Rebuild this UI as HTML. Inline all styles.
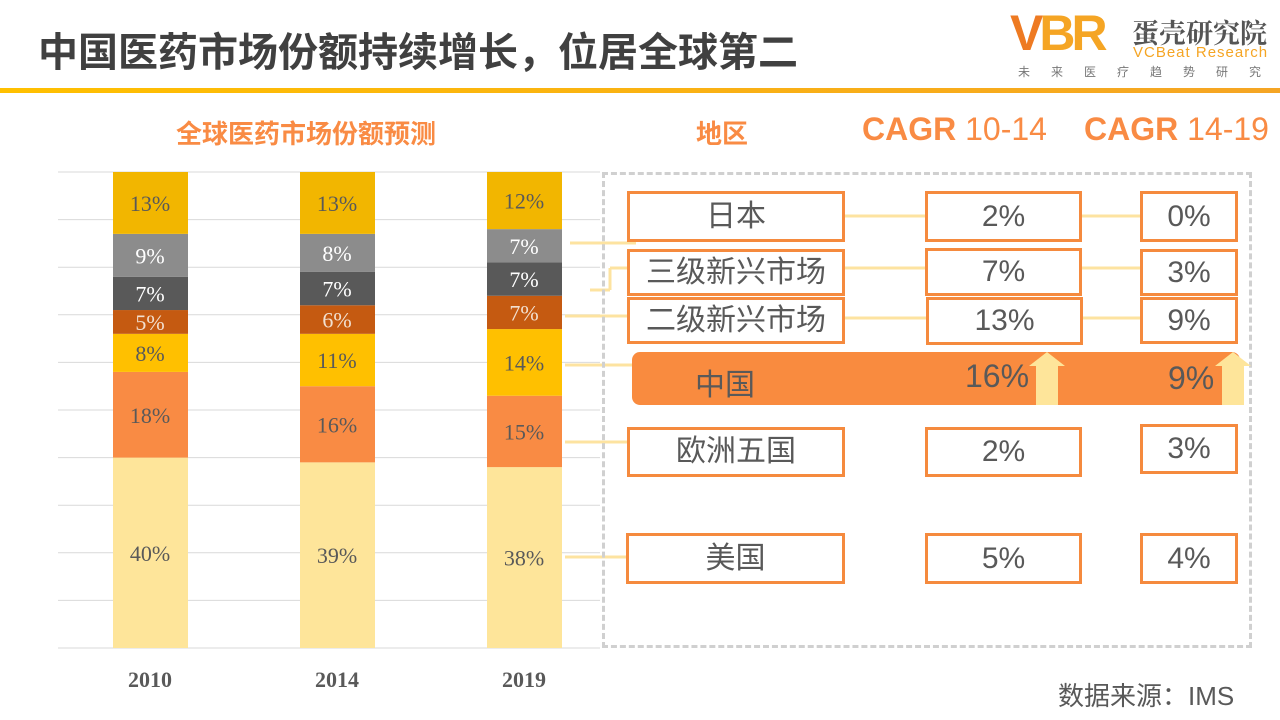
<!DOCTYPE html>
<html><head><meta charset="utf-8"><style>
body{margin:0;width:1280px;height:720px;background:#fff;overflow:hidden;position:relative;font-family:"Liberation Sans","Noto Sans CJK SC",sans-serif}
.t{position:absolute;white-space:nowrap}
.box{position:absolute;border:3px solid #F58A3E;background:#fff;box-sizing:border-box;display:flex;align-items:center;justify-content:center;color:#595959;font-size:30px;line-height:1;padding-top:0}
</style></head><body>
<div class="t" style="left:38px;top:20px;font-size:40px;font-weight:bold;color:#404040">中国医药市场份额持续增长，位居全球第二</div>
<div style="position:absolute;left:1010px;top:8px;width:270px;height:75px">
 <div class="t" style="left:0;top:-4px;font-size:50px;font-weight:900;color:#EE7A22;letter-spacing:-4px;font-family:'Liberation Sans',sans-serif">V<span style="color:#F5A524">B</span><span style="color:#F5A524">R</span></div>
 <div class="t" style="left:122px;top:4px;font-size:27px;font-weight:bold;color:#555;font-family:'Noto Serif CJK SC',serif">蛋壳研究院</div>
 <div class="t" style="left:123px;top:36px;font-size:15px;color:#F5A524;letter-spacing:1px">VCBeat Research</div>
 <div class="t" style="left:8px;top:55px;font-size:12px;color:#777;letter-spacing:21px">未来医疗趋势研究</div>
</div>
<div style="position:absolute;left:0;top:88px;width:1280px;height:5px;background:linear-gradient(90deg,#FFC000,#F5A524)"></div>
<div class="t" style="left:176px;top:114px;font-size:26px;font-weight:bold;color:#F98B44">全球医药市场份额预测</div>
<div class="t" style="left:696px;top:114px;font-size:26px;font-weight:bold;color:#F98B44">地区</div>
<div class="t" style="left:862px;top:111px;font-size:32px;color:#F98B44"><b>CAGR</b> 10-14</div>
<div class="t" style="left:1084px;top:111px;font-size:32px;color:#F98B44"><b>CAGR</b> 14-19</div>

<svg id="chart" style="position:absolute;left:0;top:0" width="1280" height="720"></svg>

<div style="position:absolute;left:602px;top:172px;width:650px;height:476px;border:3px dashed #D0D0D0;box-sizing:border-box"></div>

<div class="box" style="left:627px;top:191px;width:218px;height:51px">日本</div>
<div class="box" style="left:925px;top:191px;width:157px;height:51px">2%</div>
<div class="box" style="left:1140px;top:191px;width:98px;height:51px">0%</div>
<div class="box" style="left:627px;top:249px;width:218px;height:47px">三级新兴市场</div>
<div class="box" style="left:925px;top:248px;width:157px;height:48px">7%</div>
<div class="box" style="left:1140px;top:249px;width:98px;height:47px">3%</div>
<div class="box" style="left:627px;top:297px;width:218px;height:47px">二级新兴市场</div>
<div class="box" style="left:926px;top:297px;width:157px;height:48px">13%</div>
<div class="box" style="left:1140px;top:297px;width:98px;height:47px">9%</div>
<div style="position:absolute;left:632px;top:352px;width:608px;height:53px;background:#F98B3F;border-radius:8px"></div>
<div class="t" style="left:695px;top:360px;font-size:30px;color:#595959">中国</div>
<div class="t" style="left:965px;top:358px;font-size:32px;color:#595959">16%</div>
<div class="t" style="left:1168px;top:360px;font-size:32px;color:#595959">9%</div>
<svg style="position:absolute;left:0;top:0" width="1280" height="720">
<polygon points="1047,352 1065,366 1058,366 1058,405 1036,405 1036,366 1029,366" fill="#FEE59A"/>
<polygon points="1233,352 1251,366 1244,366 1244,405 1222,405 1222,366 1215,366" fill="#FEE59A"/>
</svg>
<div class="box" style="left:627px;top:427px;width:218px;height:50px">欧洲五国</div>
<div class="box" style="left:925px;top:427px;width:157px;height:50px">2%</div>
<div class="box" style="left:1140px;top:424px;width:98px;height:50px">3%</div>
<div class="box" style="left:626px;top:533px;width:219px;height:51px">美国</div>
<div class="box" style="left:925px;top:533px;width:157px;height:51px">5%</div>
<div class="box" style="left:1140px;top:533px;width:98px;height:51px">4%</div>
<div class="t" style="left:1058px;top:676px;font-size:26px;color:#595959">数据来源：IMS</div>

<script>
const years=["2010","2014","2019"];
const usa=[40,39,38];
const eu5=[18,16,15];
const china=[8,11,14];
const tier2=[5,6,7];
const tier3=[7,7,7];
const japan=[9,8,7];
const rest=[13,13,12];
const yTicks=[0,10,20,30,40,50,60,70,80,90,100];
const series=[usa,eu5,china,tier2,tier3,japan,rest];
const colors=["#FEE59A","#F98B44","#FFC000","#C55A11","#595959","#8C8C8C","#F2B600"];
const labelColors=["#595959","#595959","#595959","#F2E0D0","#fff","#fff","#595959"];
const svg=document.getElementById('chart');
const NS="http://www.w3.org/2000/svg";
const x0=58,x1=600,yB=648,yT=172;
const y=v=>yB-(v/100)*(yB-yT);
const xc=i=>150+i*187;
function mk(t,a){const e=document.createElementNS(NS,t);for(const k in a)e.setAttribute(k,a[k]);svg.appendChild(e);return e;}
yTicks.forEach(v=>{const l=mk('line',{x1:x0,x2:x1,y1:y(v),y2:y(v),stroke:'#D9D9D9','stroke-width':1});

});
years.forEach((yr,i)=>{let acc=0;
 series.forEach((s,j)=>{const v=s[i];const r=mk('rect',{x:xc(i)-37,width:75,y:y(acc+v),height:y(acc)-y(acc+v),fill:colors[j]});
  
  
  const t=mk('text',{x:xc(i),y:(y(acc)+y(acc+v))/2+8,'text-anchor':'middle','font-size':22,fill:labelColors[j],'font-family':'Liberation Serif,serif'});
  t.textContent=v+'%';
  
  
  acc+=v;});
 const xl=mk('text',{x:xc(i),y:687,'text-anchor':'middle','font-size':22,'font-weight':'bold',fill:'#595959','font-family':'Liberation Serif,serif'});
 xl.textContent=yr;
 
 
});
const lc='#FDE3A0';
[[570,243,636,243],[565,365,632,365],[565,442,627,442],[565,557,626,557],[565,316,627,316],
 [590,290,610,290],[610,290,610,268],[610,268,627,268],
 [845,216,925,216],[1082,216,1140,216],[845,268,925,268],[1082,268,1140,268],
 [845,318,926,318],[1082,318,1140,318]].forEach(c=>{
 const l=mk('line',{x1:c[0],y1:c[1],x2:c[2],y2:c[3],stroke:lc,'stroke-width':3});
 
 });
</script>
</body></html>
